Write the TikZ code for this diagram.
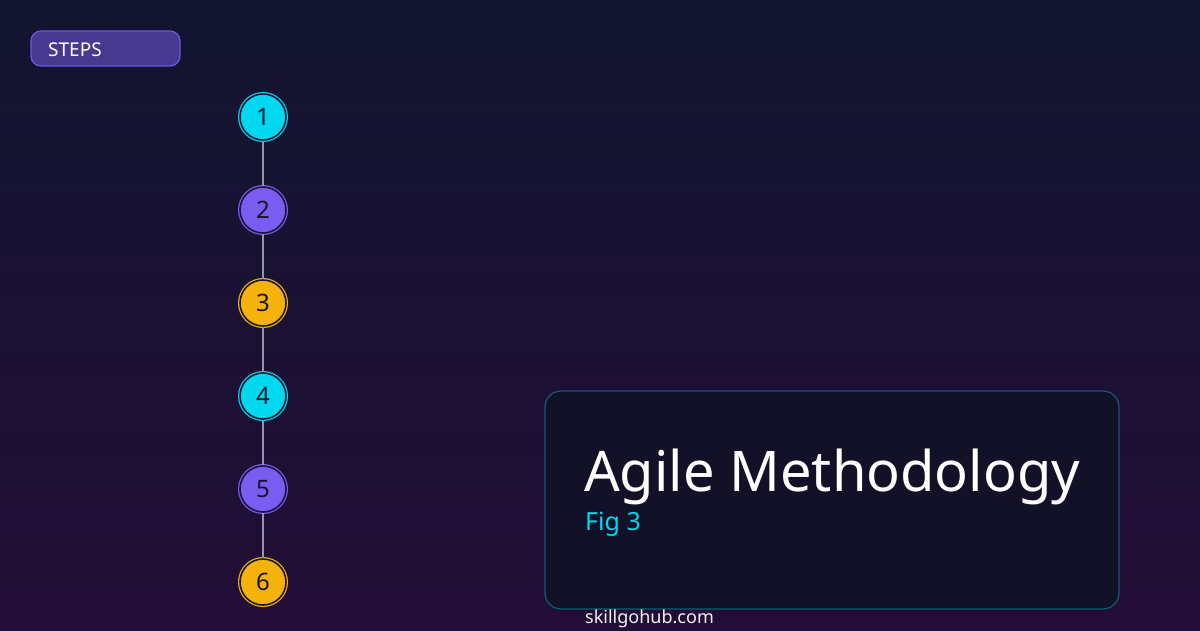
\documentclass[tikz,border=0pt]{standalone}
\usepackage{fontspec}
\setmainfont{Noto Sans}

\definecolor{bgtop}{RGB}{18,21,48}
\definecolor{bgbot}{RGB}{34,13,54}
\definecolor{stepcyan}{RGB}{0,216,240}
\definecolor{steppurple}{RGB}{122,92,240}
\definecolor{stepamber}{RGB}{245,178,10}
\definecolor{ringgap}{RGB}{26,22,56}
\definecolor{numtext}{RGB}{22,20,45}
\definecolor{tagfill}{RGB}{71,57,143}
\definecolor{tagline}{RGB}{108,86,224}
\definecolor{cardfill}{RGB}{18,17,40}
\definecolor{cardline}{RGB}{14,92,112}
\definecolor{linkgrey}{RGB}{150,148,170}

\tikzset{
  stepnode/.style={circle, minimum size=46pt, inner sep=0pt, line width=1.2pt,
    double=ringgap, double distance=1.6pt, text=numtext, font=\fontsize{24}{24}\selectfont},
}

\begin{document}
\begin{tikzpicture}[x=1pt, y=-1pt]
	\useasboundingbox (0,0) rectangle (1200,630);
	\shade[top color=bgtop, bottom color=bgbot] (0,0) rectangle (1200,630);

	% tag
	\draw[rounded corners=10pt, fill=tagfill, draw=tagline, line width=1.3pt] (31,31) rectangle (180,66);
	\node[anchor=base west, text=white, font=\fontsize{19}{19}\selectfont, inner sep=0pt] (tag) at (48,56) {STEPS};

	% steps
	\node[stepnode, fill=stepcyan, draw=stepcyan] (s1) at (263,117) {1};
	\node[stepnode, fill=steppurple, draw=steppurple] (s2) at (263,210) {2};
	\node[stepnode, fill=stepamber, draw=stepamber] (s3) at (263,303) {3};
	\node[stepnode, fill=stepcyan, draw=stepcyan] (s4) at (263,396) {4};
	\node[stepnode, fill=steppurple, draw=steppurple] (s5) at (263,489) {5};
	\node[stepnode, fill=stepamber, draw=stepamber] (s6) at (263,582) {6};

	\draw[linkgrey, line width=2pt] (s1) -- (s2);
	\draw[linkgrey, line width=2pt] (s2) -- (s3);
	\draw[linkgrey, line width=2pt] (s3) -- (s4);
	\draw[linkgrey, line width=2pt] (s4) -- (s5);
	\draw[linkgrey, line width=2pt] (s5) -- (s6);

	% title card
	\draw[rounded corners=16pt, fill=cardfill, draw=cardline, line width=1.3pt] (545,391) rectangle (1119,609);
	\node[anchor=base west, text=white, font=\fontsize{56}{56}\selectfont, inner sep=0pt] (title) at (584,491) {Agile Methodology};
	\node[anchor=base west, text=stepcyan, font=\fontsize{25}{25}\selectfont, inner sep=0pt] (fig) at (585,530) {Fig 3};

	\node[anchor=base west, text=white!88!gray, font=\fontsize{18}{18}\selectfont, inner sep=0pt] (site) at (585,623) {skillgohub.com};
\end{tikzpicture}
\end{document}
